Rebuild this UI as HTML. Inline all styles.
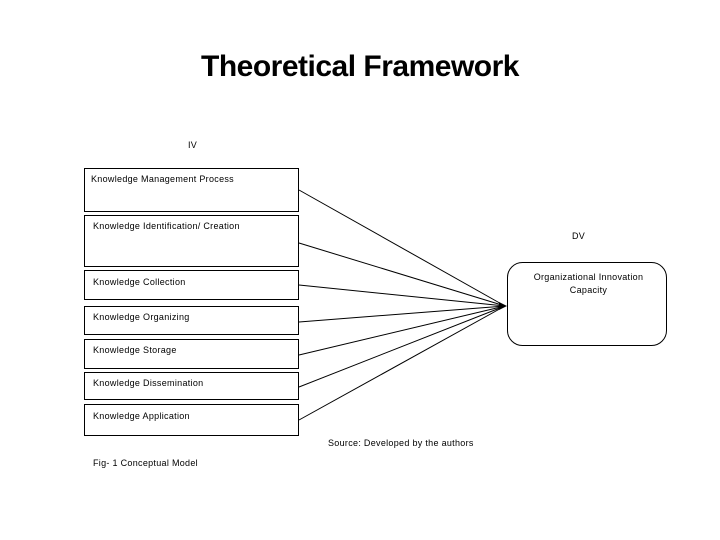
<!DOCTYPE html>
<html><head><meta charset="utf-8"><style>
html,body{margin:0;padding:0;background:#fff;}
body{width:720px;height:540px;position:relative;overflow:hidden;font-family:"Liberation Sans",sans-serif;}
.t{position:absolute;font-size:9px;color:#000;white-space:nowrap;letter-spacing:0.3px;}
.b{position:absolute;border:1px solid #000;box-sizing:border-box;left:84px;width:215px;}
h1{position:absolute;margin:0;top:50px;left:0;width:720px;text-align:center;font-size:30px;font-weight:bold;font-family:"Liberation Sans",sans-serif;letter-spacing:-0.5px;}
</style></head><body>
<h1>Theoretical Framework</h1>
<div class="t" style="left:188px;top:140px">IV</div>
<div class="b" style="top:168px;height:44px"></div>
<div class="b" style="top:215px;height:52px"></div>
<div class="b" style="top:270px;height:30px"></div>
<div class="b" style="top:306px;height:29px"></div>
<div class="b" style="top:339px;height:30px"></div>
<div class="b" style="top:372px;height:28px"></div>
<div class="b" style="top:404px;height:32px"></div>
<div class="t" style="left:91px;top:174px">Knowledge Management Process</div>
<div class="t" style="left:93px;top:221px">Knowledge Identification/ Creation</div>
<div class="t" style="left:93px;top:277px">Knowledge Collection</div>
<div class="t" style="left:93px;top:312px">Knowledge Organizing</div>
<div class="t" style="left:93px;top:345px">Knowledge Storage</div>
<div class="t" style="left:93px;top:378px">Knowledge Dissemination</div>
<div class="t" style="left:93px;top:411px">Knowledge Application</div>
<svg style="position:absolute;left:0;top:0" width="720" height="540">
<g stroke="#000" stroke-width="1" fill="none">
<line x1="299" y1="190" x2="505" y2="306"/>
<line x1="299" y1="243" x2="505" y2="306"/>
<line x1="299" y1="285" x2="505" y2="306"/>
<line x1="299" y1="322" x2="505" y2="306"/>
<line x1="299" y1="355" x2="505" y2="306"/>
<line x1="299" y1="387" x2="505" y2="306"/>
<line x1="299" y1="420" x2="505" y2="306"/>
<rect x="507.5" y="262.5" width="159" height="83" rx="15" ry="15"/>
</g>
<polygon points="507,306 499,302 499,310" fill="#000"/>
</svg>
<div class="t" style="left:572px;top:231px">DV</div>
<div class="t" style="left:509px;top:271px;width:159px;text-align:center;white-space:normal;line-height:13px">Organizational Innovation<br>Capacity</div>
<div class="t" style="left:328px;top:438px">Source: Developed by the authors</div>
<div class="t" style="left:93px;top:458px">Fig- 1 Conceptual Model</div>
</body></html>
